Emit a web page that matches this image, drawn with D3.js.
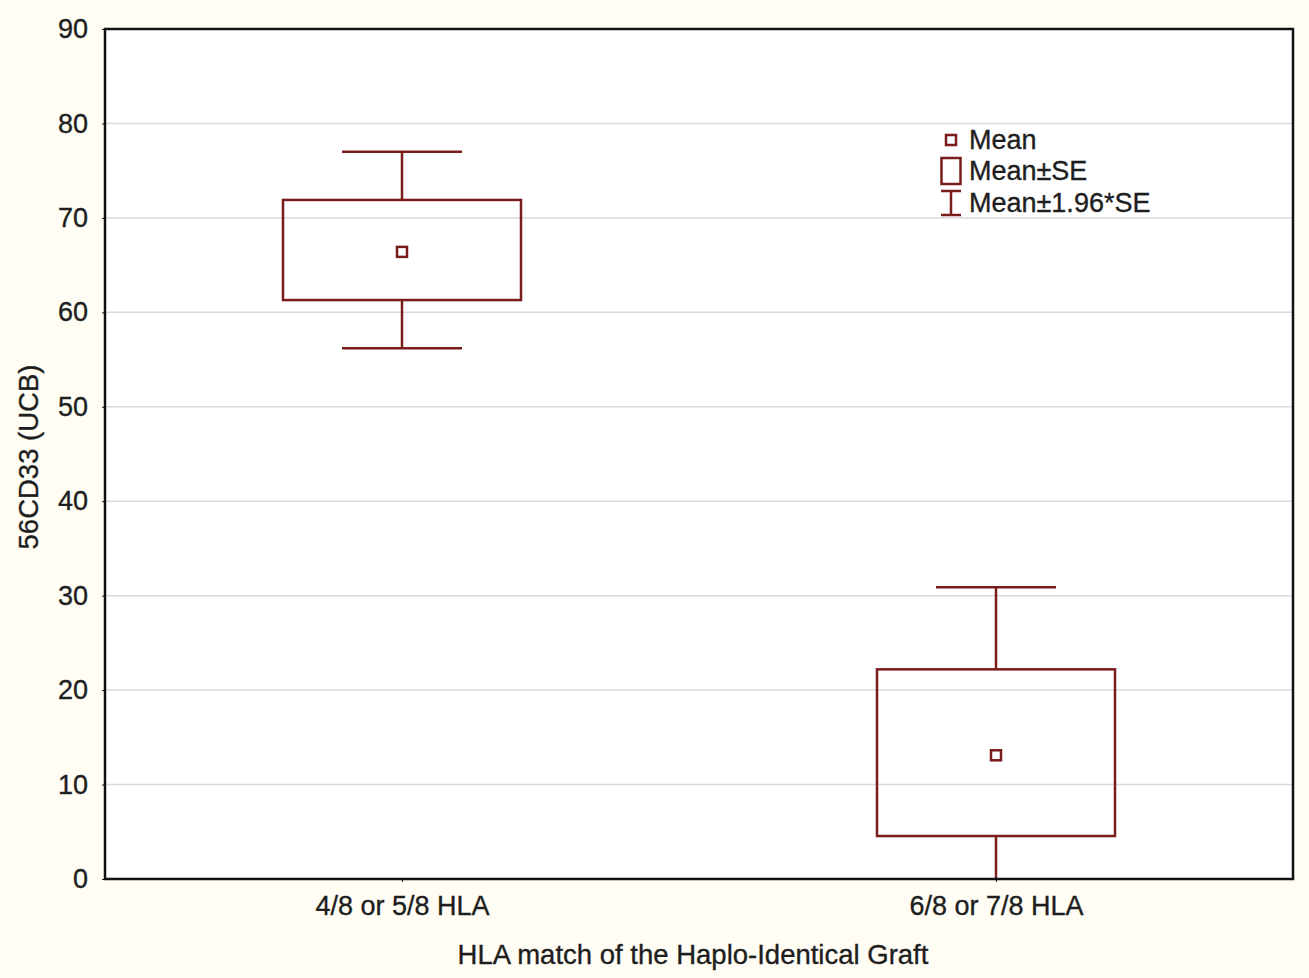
<!DOCTYPE html>
<html><head><meta charset="utf-8">
<script src="https://cdn.jsdelivr.net/npm/d3@7"></script>
<style>
html,body{margin:0;padding:0;background:#fffdf4;}
svg{display:block;}
text{font-family:"Liberation Sans",Arial,sans-serif;fill:#1e1e1e;stroke:#1e1e1e;stroke-width:0.35px;}
</style></head><body>
<svg id="chart" width="1309" height="978"></svg>
<script>
const categories = ["4/8 or 5/8 HLA", "6/8 or 7/8 HLA"];
const means = [66.4, 13.1];
const seLow = [61.3, 4.55];
const seHigh = [71.9, 22.2];
const ciLow = [56.2, -4.3];
const ciHigh = [77.0, 30.9];
const yTicks = [0, 10, 20, 30, 40, 50, 60, 70, 80, 90];
const legendLabels = ["Mean", "Mean±SE", "Mean±1.96*SE"];

const W = 1309, H = 978;
const m = {left: 105, right: 16, top: 29, bottom: 99};
const pw = W - m.left - m.right, ph = H - m.top - m.bottom;
const col = "#7a1c1c";

const svg = d3.select("#chart");
const x = d3.scalePoint().domain(categories).range([0, pw]).padding(0.5);
const y = d3.scaleLinear().domain([0, 90]).range([ph, 0]);

const g = svg.append("g").attr("transform", `translate(${m.left},${m.top})`);
g.append("rect").attr("width", pw).attr("height", ph).attr("fill", "#ffffff");

// gridlines
g.selectAll(".grid").data(yTicks.filter(t => t > 0 && t < 90)).join("line")
  .attr("x1", 0).attr("x2", pw).attr("y1", d => y(d)).attr("y2", d => y(d))
  .attr("stroke", "#d9d9d9").attr("stroke-width", 1.5);

// clip
svg.append("defs").append("clipPath").attr("id", "clip")
  .append("rect").attr("width", pw).attr("height", ph);
const marks = g.append("g").attr("clip-path", "url(#clip)");

const boxW = 238, capW = 120, meanS = 10;
categories.forEach((c, i) => {
  const cx = x(c);
  marks.append("line").attr("x1", cx).attr("x2", cx).attr("y1", y(ciHigh[i])).attr("y2", y(seHigh[i]))
    .attr("stroke", col).attr("stroke-width", 2.5);
  marks.append("line").attr("x1", cx).attr("x2", cx).attr("y1", y(seLow[i])).attr("y2", y(ciLow[i]))
    .attr("stroke", col).attr("stroke-width", 2.5);
  marks.append("line").attr("x1", cx - capW / 2).attr("x2", cx + capW / 2).attr("y1", y(ciHigh[i])).attr("y2", y(ciHigh[i]))
    .attr("stroke", col).attr("stroke-width", 2.5);
  marks.append("line").attr("x1", cx - capW / 2).attr("x2", cx + capW / 2).attr("y1", y(ciLow[i])).attr("y2", y(ciLow[i]))
    .attr("stroke", col).attr("stroke-width", 2.5);
  marks.append("rect").attr("x", cx - boxW / 2).attr("y", y(seHigh[i]))
    .attr("width", boxW).attr("height", y(seLow[i]) - y(seHigh[i]))
    .attr("fill", "none").attr("stroke", col).attr("stroke-width", 2.5);
  marks.append("rect").attr("x", cx - meanS / 2).attr("y", y(means[i]) - meanS / 2)
    .attr("width", meanS).attr("height", meanS)
    .attr("fill", "#ffffff").attr("stroke", col).attr("stroke-width", 2.5);
});

// frame
g.append("rect").attr("width", pw).attr("height", ph)
  .attr("fill", "none").attr("stroke", "#111").attr("stroke-width", 2.5);

// y axis
const ya = g.append("g").call(d3.axisLeft(y).tickValues(yTicks).tickSize(3).tickPadding(14));
ya.select(".domain").remove();
ya.selectAll("line").attr("stroke", "#111");
ya.selectAll("text").attr("font-size", 27).style("fill", "#1e1e1e");

// x axis
const xa = g.append("g").attr("transform", `translate(0,${ph})`)
  .call(d3.axisBottom(x).tickSize(3).tickPadding(14));
xa.select(".domain").remove();
xa.selectAll("line").attr("stroke", "#111");
xa.selectAll("text").attr("font-size", 27).style("fill", "#1e1e1e");

// titles
svg.append("text").attr("x", m.left + pw / 2 - 6).attr("y", 964).attr("text-anchor", "middle")
  .attr("font-size", 27.5).text("HLA match of the Haplo-Identical Graft");
svg.append("text").attr("transform", `translate(38,${m.top + ph / 2 + 3}) rotate(-90)`)
  .attr("text-anchor", "middle").attr("font-size", 27.5).text("56CD33 (UCB)");

// legend
const lg = svg.append("g").attr("transform", "translate(951,0)");
const rows = [140, 171, 203];
lg.append("rect").attr("x", -5).attr("y", rows[0] - 5).attr("width", 10).attr("height", 10)
  .attr("fill", "#fff").attr("stroke", col).attr("stroke-width", 2.5);
lg.append("rect").attr("x", -9.5).attr("y", rows[1] - 13).attr("width", 19).attr("height", 26)
  .attr("fill", "#fff").attr("stroke", col).attr("stroke-width", 2.5);
lg.append("line").attr("x1", 0).attr("x2", 0).attr("y1", rows[2] - 12).attr("y2", rows[2] + 12)
  .attr("stroke", col).attr("stroke-width", 2.5);
lg.append("line").attr("x1", -10).attr("x2", 10).attr("y1", rows[2] - 12).attr("y2", rows[2] - 12)
  .attr("stroke", col).attr("stroke-width", 2.5);
lg.append("line").attr("x1", -10).attr("x2", 10).attr("y1", rows[2] + 12).attr("y2", rows[2] + 12)
  .attr("stroke", col).attr("stroke-width", 2.5);
lg.selectAll("text.lab").data(legendLabels).join("text").attr("class", "lab")
  .attr("x", 18).attr("y", (d, i) => rows[i]).attr("dy", "0.35em")
  .attr("font-size", 27).text(d => d);
</script>
</body></html>
